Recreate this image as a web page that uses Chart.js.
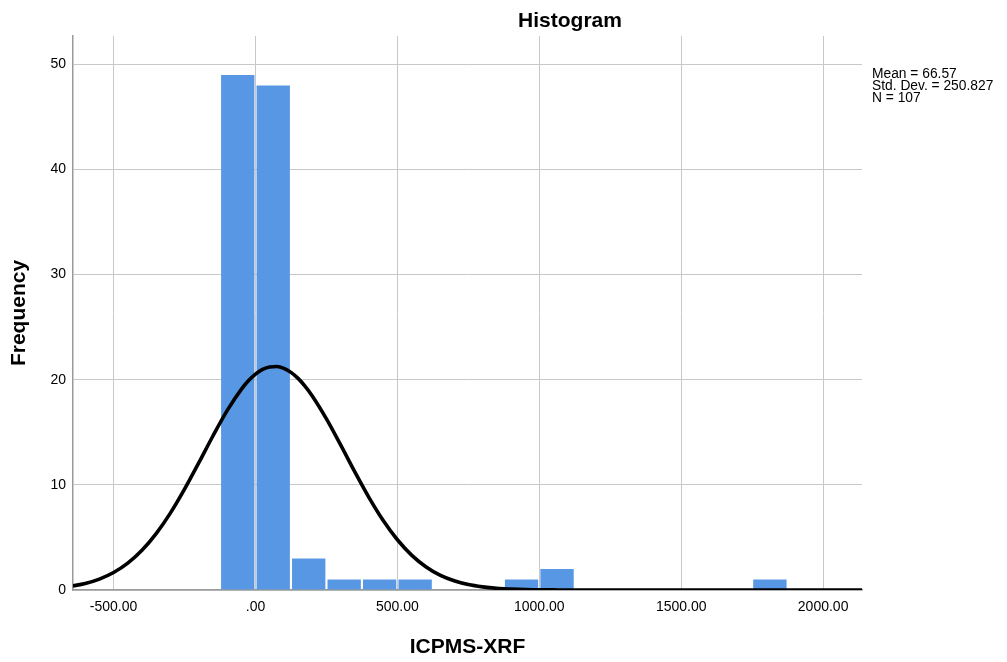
<!DOCTYPE html>
<html>
<head>
<meta charset="utf-8">
<script src="https://cdn.jsdelivr.net/npm/chart.js@4/dist/chart.umd.min.js"></script>
<style>
  html, body { margin: 0; padding: 0; background: #ffffff; }
  #wrap { width: 1007px; height: 662px; }
</style>
</head>
<body>
<div id="wrap"><canvas id="c" width="1007" height="662"></canvas></div>
<script>
// ---- data ----
const binCenters = [-62.5, 62.5, 187.5, 312.5, 437.5, 562.5, 937.5, 1062.5, 1812.5];
const frequencies = [49, 48, 3, 1, 1, 1, 1, 2, 1];

const curveX = [-650, -600, -550, -500, -450, -400, -350, -300, -250, -200, -150, -100, -50, -25, 0,
                25, 50, 75, 100, 125, 150, 175, 200, 250, 300, 350, 400, 450, 500, 550, 600, 650, 700, 750, 800,
                850, 900, 950, 1000, 1050, 1100, 2150];
const curveY = [0.36, 0.62, 1.04, 1.66, 2.55, 3.77, 5.36, 7.31, 9.59, 12.09, 14.65, 17.06, 19.09, 19.90, 20.53,
                20.98, 21.22, 21.26, 21.08, 20.70, 20.13, 19.37, 18.46, 16.28, 13.80, 11.23, 8.79, 6.61, 4.78, 3.32, 2.22, 1.42, 0.88, 0.52, 0.30,
                0.16, 0.09, 0.04, 0.02, 0.01, 0, 0];

const xTickValues = [-500, 0, 500, 1000, 1500, 2000];
const xTickLabels = ['-500.00', '.00', '500.00', '1000.00', '1500.00', '2000.00'];
const yTickValues = [0, 10, 20, 30, 40, 50];
const yTickLabels = ['0', '10', '20', '30', '40', '50'];

const chartTitle = 'Histogram';
const xTitle = 'ICPMS-XRF';
const yTitle = 'Frequency';
const statsLines = ['Mean = 66.57', 'Std. Dev. = 250.827', 'N = 107'];

// ---- chart ----
const FONT = '"Liberation Sans", Arial, "DejaVu Sans", sans-serif';

const textPlugin = {
  id: 'spssText',
  afterDraw(chart) {
    const ctx = chart.ctx;
    ctx.save();
    ctx.fillStyle = '#000000';
    ctx.textBaseline = 'alphabetic';
    ctx.textAlign = 'center';
    ctx.font = 'bold 21px ' + FONT;
    ctx.fillText(chartTitle, 570, 27);
    ctx.textAlign = 'left';
    ctx.font = '13.8px ' + FONT;
    statsLines.forEach((s, i) => ctx.fillText(s, 872, 78 + i * 11.9));
    ctx.restore();
  }
};

const barData = binCenters.map((x, i) => ({ x: x, y: frequencies[i] }));
const lineData = curveX.map((x, i) => ({ x: x, y: curveY[i] }));

new Chart(document.getElementById('c'), {
  type: 'bar',
  data: {
    datasets: [
      {
        type: 'line',
        data: lineData,
        borderColor: '#000000',
        borderWidth: 3.6,
        pointRadius: 0,
        fill: false,
        cubicInterpolationMode: 'monotone',
        order: 0
      },
      {
        type: 'bar',
        data: barData,
        backgroundColor: '#5897e4',
        borderWidth: 0,
        barPercentage: 0.94,
        categoryPercentage: 1.0,
        order: 1
      }
    ]
  },
  options: {
    responsive: false,
    animation: false,
    devicePixelRatio: 1,
    layout: { padding: { left: 0, right: 145, top: 36, bottom: 0 } },
    plugins: {
      legend: { display: false },
      tooltip: { enabled: false },
      title: { display: false }
    },
    scales: {
      x: {
        type: 'linear',
        min: -643,
        max: 2137,
        offset: false,
        afterBuildTicks: (axis) => { axis.ticks = xTickValues.map(v => ({ value: v })); },
        afterFit: (axis) => { axis.height = 72; },
        grid: { color: '#c8c8c8', lineWidth: 1, drawTicks: false, offset: false },
        border: { color: '#9a9a9a', width: 1.5 },
        ticks: {
          autoSkip: false,
          maxRotation: 0,
          padding: 9,
          color: '#000000',
          font: { family: FONT, size: 14 },
          callback: (v) => { const i = xTickValues.indexOf(v); return i >= 0 ? xTickLabels[i] : ''; }
        },
        title: {
          display: true,
          text: xTitle,
          color: '#000000',
          font: { family: FONT, size: 21, weight: 'bold', lineHeight: 1.2 },
          padding: { top: 0, bottom: 2.4 }
        }
      },
      y: {
        type: 'linear',
        min: 0,
        max: 52.7,
        afterBuildTicks: (axis) => { axis.ticks = yTickValues.map(v => ({ value: v })); },
        afterFit: (axis) => { axis.width = 73; },
        grid: { color: '#c8c8c8', lineWidth: 1, drawTicks: false },
        border: { color: '#9a9a9a', width: 1.5 },
        ticks: {
          padding: 7,
          color: '#000000',
          font: { family: FONT, size: 14 },
          callback: (v) => { const i = yTickValues.indexOf(v); return i >= 0 ? yTickLabels[i] : ''; }
        },
        title: {
          display: true,
          text: yTitle,
          color: '#000000',
          font: { family: FONT, size: 21, weight: 'bold', lineHeight: 1.2 },
          padding: { top: 7, bottom: 0 }
        }
      }
    }
  },
  plugins: [textPlugin]
});
</script>
</body>
</html>
